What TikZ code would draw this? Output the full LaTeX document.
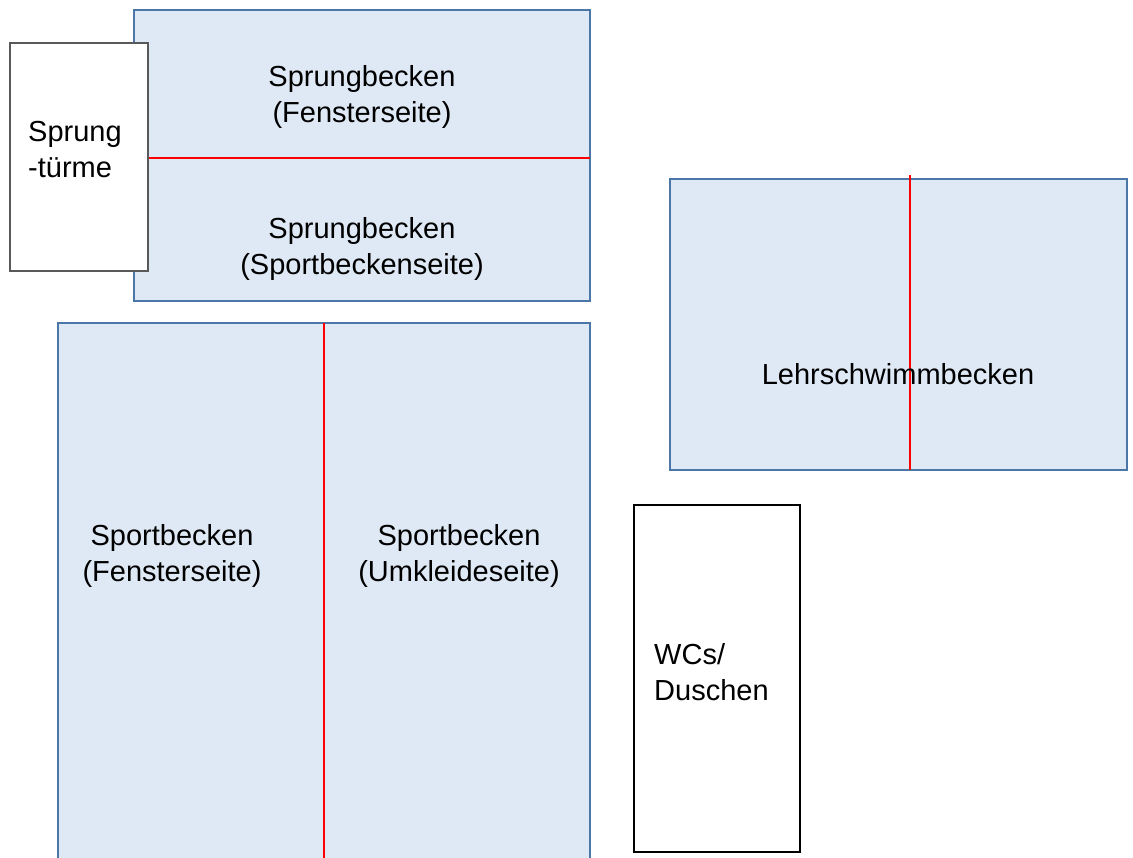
\documentclass[tikz,border=0pt]{standalone}
\usepackage{fontspec}
\setmainfont{Liberation Sans}
\usepackage{xcolor}
\definecolor{poolfill}{RGB}{222,233,245}
\definecolor{poolline}{RGB}{74,118,168}
\tikzset{
  pool/.style = {draw = poolline, fill = poolfill, line width = 2.5pt},
  lane/.style = {red, line width = 1.3pt},
  room/.style = {draw = black, fill = white}
}
\begin{document}
\begin{tikzpicture}[x = 1pt, y = -1pt, font = \fontsize{29}{36}\selectfont]
  \useasboundingbox (0,0) rectangle (1133,858);
  \clip (0,0) rectangle (1133,858);
  % becken
  \draw [pool] (134,10) rectangle (590,301);
  \draw [pool] (58,323) rectangle (590,880);
  \draw [pool] (670,179) rectangle (1127,470);
  % bahnen
  \draw [lane] (148,158) -- (590,158);
  \draw [lane] (324,323) -- (324,880);
  \draw [lane] (910,175) -- (910,470);
  % nebenraeume
  \draw [room, draw = black!65, line width = 1.3pt] (10,43) rectangle (148,271);
  \draw [room, line width = 2.3pt] (634,505) rectangle (800,852);
  \begin{scope}[nodes = {align = center, inner sep = 0pt}]
    \node (sprungF) at (362,97) {Sprungbecken\\(Fensterseite)};
    \node (sprungS) at (362,249) {Sprungbecken\\(Sportbeckenseite)};
    \node (sportF) at (172,556) {Sportbecken\\(Fensterseite)};
    \node (sportU) at (459,556) {Sportbecken\\(Umkleideseite)};
    \node (lehr) at (898,374) {Lehrschwimmbecken};
  \end{scope}
  \begin{scope}[nodes = {align = left, inner sep = 0pt, anchor = west}]
    \node (tuerme) at (28,150) {Sprung\\-türme};
    \node (wc) at (654,672) {WCs/\\Duschen};
  \end{scope}
\end{tikzpicture}
\end{document}
